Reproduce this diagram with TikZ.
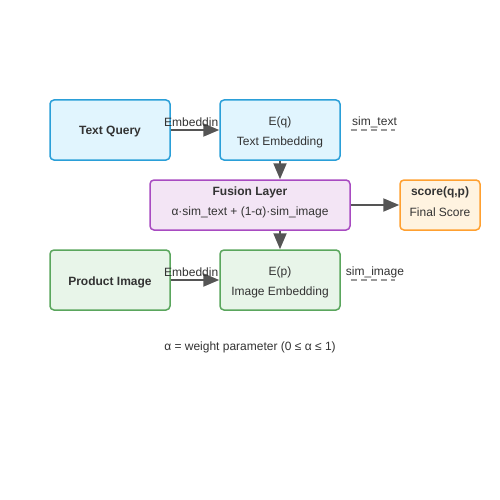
\documentclass[tikz,border=0pt]{standalone}
\usepackage{fontspec}
\setmainfont{Liberation Sans}
\usetikzlibrary{arrows.meta}
\definecolor{txt}{HTML}{333333}
\definecolor{arr}{HTML}{555555}
\definecolor{dsh}{HTML}{999999}
\definecolor{bluef}{HTML}{E1F5FE}\definecolor{blued}{HTML}{2A9FD8}
\definecolor{greenf}{HTML}{E8F5E9}\definecolor{greend}{HTML}{5AA65D}
\definecolor{purf}{HTML}{F3E5F5}\definecolor{purd}{HTML}{A84BC1}
\definecolor{oraf}{HTML}{FFF3E0}\definecolor{orad}{HTML}{FFA030}
\tikzset{
  box/.style={draw, line width=1.5pt, rounded corners=4pt, inner sep=0pt},
  lbl/.style={text=txt, font=\fontsize{12}{14}\selectfont, inner sep=0pt},
  blbl/.style={lbl, font=\fontsize{12}{14}\selectfont\bfseries},
  flow/.style={draw=arr, line width=2pt, -{Triangle[length=16pt,width=13pt]}},
  simline/.style={draw=dsh, line width=1.5pt, dash pattern=on 6pt off 4pt},
}
\begin{document}
\begin{tikzpicture}[x=1pt,y=-1pt]
\useasboundingbox (0,0) rectangle (500,500);
\fill[white] (0,0) rectangle (500,500);
% boxes
\node[box, draw=blued, fill=bluef, minimum width=120pt, minimum height=60pt] (tq) at (110,130) {};
\node[box, draw=blued, fill=bluef, minimum width=120pt, minimum height=60pt] (eq) at (280,130) {};
\node[box, draw=purd, fill=purf, minimum width=200pt, minimum height=50pt] (fu) at (250,205) {};
\node[box, draw=orad, fill=oraf, minimum width=80pt, minimum height=50pt] (sc) at (440,205) {};
\node[box, draw=greend, fill=greenf, minimum width=120pt, minimum height=60pt] (pi) at (110,280) {};
\node[box, draw=greend, fill=greenf, minimum width=120pt, minimum height=60pt] (ep) at (280,280) {};
% texts
\node[blbl] (tqt) at (110,132) {Text Query};
\node[lbl] (eqa) at (280,122) {E(q)};
\node[lbl] (eqb) at (280,142) {Text Embedding};
\node[blbl] (fua) at (250,192) {Fusion Layer};
\node[lbl] (fub) at (250,212) {α·sim\_text + (1-α)·sim\_image};
\node[blbl] (sca) at (440,192) {score(q,p)};
\node[lbl] (scb) at (440,212) {Final Score};
\node[blbl] (pit) at (110,282) {Product Image};
\node[lbl] (epa) at (280,272) {E(p)};
\node[lbl] (epb) at (280,292) {Image Embedding};
\node[lbl] (cap) at (250,347) {α = weight parameter (0 ≤ α ≤ 1)};
% arrows
\draw[flow] (tq.east) -- (eq.west);
\draw[flow] (pi.east) -- (ep.west);
\draw[flow] (eq.south) -- (fu.north -| eq.south);
\draw[flow] (fu.south -| ep.north) -- (ep.north);
\draw[flow] (fu.east) -- (sc.west);
\node[lbl, anchor=west] (e1) at (164,122) {Embeddin};
\node[lbl, anchor=west] (e2) at (164,272) {Embeddin};
% dashed similarity lines
\coordinate (st) at (395,130);
\coordinate (si) at (395,280);
\draw[simline] ([xshift=10pt]eq.east) -- (st);
\draw[simline] ([xshift=10pt]ep.east) -- (si);
\node[lbl] (stl) at (374.5,122) {sim\_text};
\node[lbl] (sil) at (375,272) {sim\_image};
\end{tikzpicture}
\end{document}
